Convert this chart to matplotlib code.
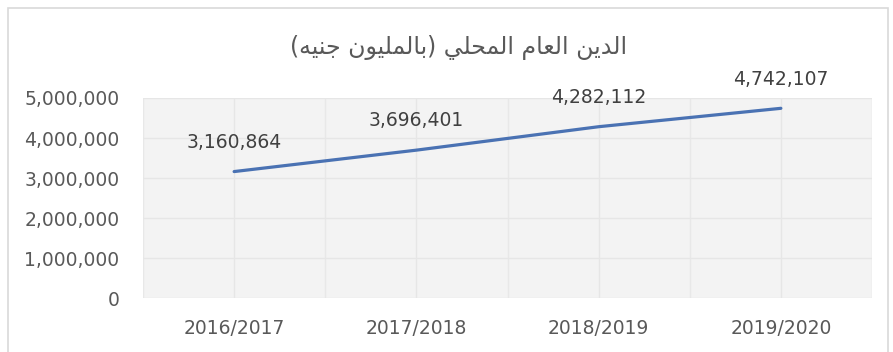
import matplotlib
matplotlib.use("Agg")
import matplotlib.pyplot as plt
from matplotlib.patches import Rectangle
from matplotlib.ticker import FuncFormatter, MultipleLocator

years = ["2016/2017", "2017/2018", "2018/2019", "2019/2020"]
debt = [3160864, 3696401, 4282112, 4742107]
title = "الدين العام المحلي (بالمليون جنيه)"

# isolated, final, initial, medial presentation forms
FORMS = {
    "ا": ("\uFE8D", "\uFE8E", None, None),
    "د": ("\uFEA9", "\uFEAA", None, None),
    "و": ("\uFEED", "\uFEEE", None, None),
    "ل": ("\uFEDD", "\uFEDE", "\uFEDF", "\uFEE0"),
    "ي": ("\uFEF1", "\uFEF2", "\uFEF3", "\uFEF4"),
    "ن": ("\uFEE5", "\uFEE6", "\uFEE7", "\uFEE8"),
    "ع": ("\uFEC9", "\uFECA", "\uFECB", "\uFECC"),
    "م": ("\uFEE1", "\uFEE2", "\uFEE3", "\uFEE4"),
    "ح": ("\uFEA1", "\uFEA2", "\uFEA3", "\uFEA4"),
    "ب": ("\uFE8F", "\uFE90", "\uFE91", "\uFE92"),
    "ج": ("\uFE9D", "\uFE9E", "\uFE9F", "\uFEA0"),
    "ه": ("\uFEE9", "\uFEEA", "\uFEEB", "\uFEEC"),
}


def shape_ar(text):
    # matplotlib has no Arabic shaping, so pick joined forms and lay out right-to-left
    out = []
    for i, ch in enumerate(text):
        if ch not in FORMS:
            out.append(ch)
            continue
        prev = text[i - 1] if i > 0 else ""
        nxt = text[i + 1] if i + 1 < len(text) else ""
        iso, fin, ini, med = FORMS[ch]
        j_prev = prev in FORMS and FORMS[prev][2] is not None
        j_next = nxt in FORMS and ini is not None
        if j_prev and j_next:
            out.append(med)
        elif j_prev:
            out.append(fin)
        elif j_next:
            out.append(ini)
        else:
            out.append(iso)
    mirror = {"(": ")", ")": "("}
    return "".join(mirror.get(c, c) for c in reversed(out))


plt.rcParams["font.family"] = ["DejaVu Sans"]

fig = plt.figure(figsize=(8.93, 3.52), dpi=100)
fig.patch.set_facecolor("white")

# chart frame
fig.patches.append(Rectangle((7.5 / 893, -0.05), 880 / 893, 1 - 8 / 352 + 0.05,
                             transform=fig.transFigure, fill=False,
                             edgecolor="#d9d9d9", linewidth=1.2))

ax = fig.add_axes([143 / 893, 54 / 352, 729 / 893, 200 / 352])
ax.set_facecolor("#f3f3f3")
x = list(range(len(years)))
ax.plot(x, debt, color="#4a72b3", linewidth=2.3, solid_capstyle="round", zorder=3)

for xi, v in zip(x, debt):
    ax.annotate(f"{v:,}", (xi, v), xytext=(0, 21), textcoords="offset points",
                ha="center", va="center", fontsize=13.5, color="#404040",
                annotation_clip=False)

ax.set_xlim(-0.5, 3.5)
ax.set_ylim(0, 5000000)
ax.set_xticks(x)
ax.set_xticklabels(years)
ax.xaxis.set_minor_locator(MultipleLocator(0.5))
ax.yaxis.set_major_locator(MultipleLocator(1000000))
ax.yaxis.set_major_formatter(FuncFormatter(lambda v, p: f"{int(v):,}"))
ax.grid(True, which="major", color="#e6e6e6", linewidth=1)
ax.grid(True, which="minor", axis="x", color="#e8e8e8", linewidth=1)
ax.set_axisbelow(True)
for s in ax.spines.values():
    s.set_visible(False)
ax.tick_params(axis="both", which="both", length=0, colors="#595959", labelsize=13.5)
ax.tick_params(axis="y", pad=17)
ax.tick_params(axis="x", pad=15)

fig.text(459 / 893, 1 - 47 / 352, shape_ar(title), ha="center", va="center",
         fontsize=17, color="#595959")

fig.savefig("out.png", dpi=100, facecolor="white")
